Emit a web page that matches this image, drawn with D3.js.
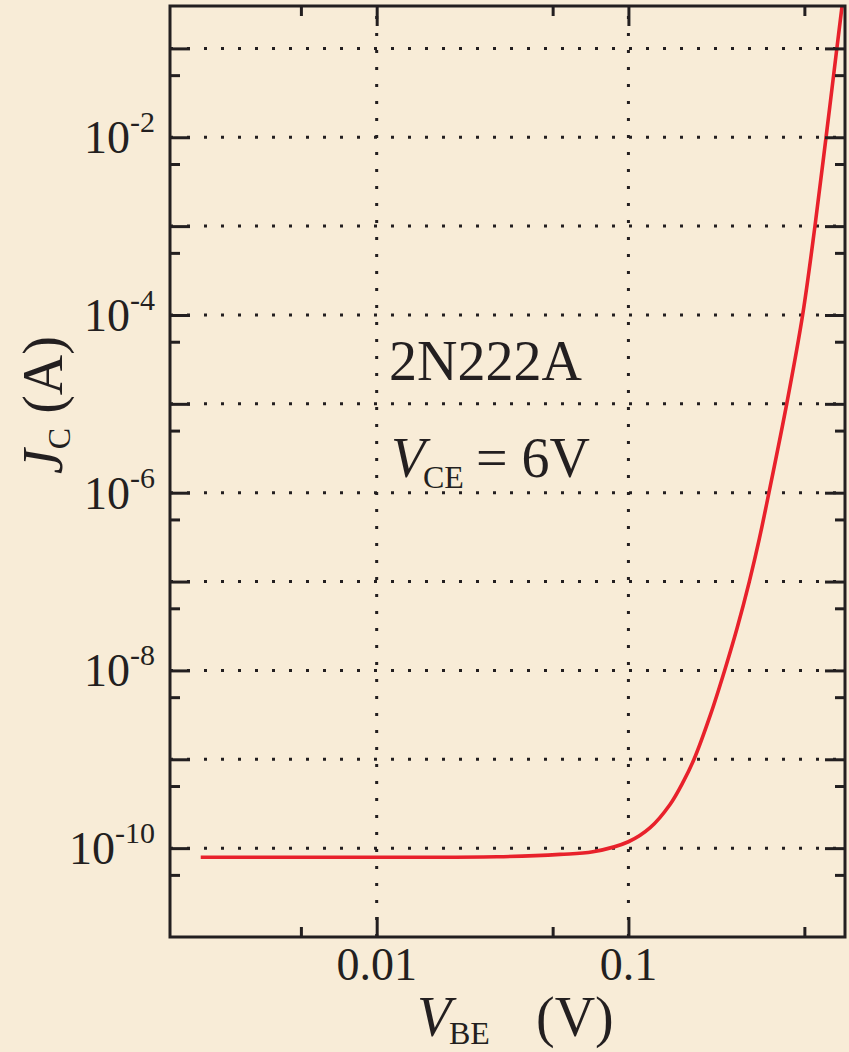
<!DOCTYPE html>
<html>
<head>
<meta charset="utf-8">
<script src="https://cdn.jsdelivr.net/npm/d3@7"></script>
<style>
body { margin: 0; background: #f8ecd7; }
text { font-family: "Liberation Serif", "Times New Roman", serif; fill: #231f20; }
</style>
</head>
<body>
<svg id="mainSvgArea" width="849" height="1052"></svg>
<script>
// curve
var vbe = [0.002, 0.01, 0.03, 0.0535, 0.0723, 0.1, 0.122, 0.1463, 0.1652, 0.1822, 0.212, 0.2411, 0.2703, 0.3022, 0.3309, 0.3616, 0.4254, 0.4921, 0.5508, 0.6096, 0.673, 0.7058];
var jc = [7.9e-11, 7.9e-11, 8.0e-11, 8.5e-11, 9.1e-11, 1.18e-10, 1.7e-10, 3.1e-10, 5.6e-10, 1e-9, 3.2e-9, 1e-8, 3e-8, 1e-7, 3e-7, 1e-6, 1e-5, 1e-4, 1e-3, 1e-2, 1e-1, 0.3];

var xMajor = [0.01, 0.1];
var xMinor = [0.005, 0.05, 0.5];
var xLabels = ["0.01", "0.1"];
var yMajor = [1e-1, 1e-2, 1e-3, 1e-4, 1e-5, 1e-6, 1e-7, 1e-8, 1e-9, 1e-10];
var yMinor = [5e-2, 5e-3, 5e-4, 5e-5, 5e-6, 5e-7, 5e-8, 5e-9, 5e-10, 5e-11];
var yLabelValues = [1e-2, 1e-4, 1e-6, 1e-8, 1e-10];
var yLabelExps = ["-2", "-4", "-6", "-8", "-10"];

var ink = "#231f20";
var plotLeft = 170, plotRight = 845, plotTop = 6, plotBottom = 937;

var svg = d3.select("#mainSvgArea");
svg.append("rect").attr("width", 849).attr("height", 1052).attr("fill", "#f8ecd7");

var x = d3.scaleLog().domain([0.00151, 0.725]).range([plotLeft, plotRight]);
var y = d3.scaleLog().domain([1e-11, 0.3]).range([plotBottom, plotTop]);

// dotted grid
svg.selectAll("line.hgrid").data(yMajor).enter().append("line")
    .attr("class", "hgrid")
    .attr("x1", plotLeft).attr("x2", plotRight)
    .attr("y1", function(d) { return y(d); })
    .attr("y2", function(d) { return y(d); })
    .attr("stroke", ink).attr("stroke-width", 3)
    .attr("stroke-dasharray", "3,14");

svg.selectAll("line.vgrid").data(xMajor).enter().append("line")
    .attr("class", "vgrid")
    .attr("x1", function(d) { return x(d); })
    .attr("x2", function(d) { return x(d); })
    .attr("y1", plotBottom).attr("y2", plotTop)
    .attr("stroke", ink).attr("stroke-width", 3)
    .attr("stroke-dasharray", "3,14");

// curve
var points = vbe.map(function(v, i) { return {v: v, j: jc[i]}; });
var line = d3.line()
    .x(function(p) { return x(p.v); })
    .y(function(p) { return y(p.j); })
    .curve(d3.curveCatmullRom.alpha(0.5));

svg.append("clipPath").attr("id", "plotClip")
    .append("rect").attr("x", plotLeft).attr("y", plotTop)
    .attr("width", plotRight - plotLeft).attr("height", plotBottom - plotTop);

svg.append("path")
    .datum(points)
    .attr("d", line)
    .attr("clip-path", "url(#plotClip)")
    .attr("fill", "none")
    .attr("stroke", "#e8212b")
    .attr("stroke-width", 3.6);

// inward ticks on all four sides
function drawAxis(gen, transform, values, size) {
    var g = svg.append("g")
        .attr("transform", transform)
        .call(gen.tickValues(values).tickSize(-size).tickFormat(""));
    g.select(".domain").remove();
    g.selectAll(".tick line").attr("stroke", ink).attr("stroke-width", 3);
}
drawAxis(d3.axisBottom(x), "translate(0," + plotBottom + ")", xMajor, 20);
drawAxis(d3.axisBottom(x), "translate(0," + plotBottom + ")", xMinor, 10);
drawAxis(d3.axisTop(x), "translate(0," + plotTop + ")", xMajor, 20);
drawAxis(d3.axisTop(x), "translate(0," + plotTop + ")", xMinor, 10);
drawAxis(d3.axisLeft(y), "translate(" + plotLeft + ",0)", yMajor, 20);
drawAxis(d3.axisLeft(y), "translate(" + plotLeft + ",0)", yMinor, 10);
drawAxis(d3.axisRight(y), "translate(" + plotRight + ",0)", yMajor, 20);
drawAxis(d3.axisRight(y), "translate(" + plotRight + ",0)", yMinor, 10);

// frame
svg.append("rect")
    .attr("x", plotLeft).attr("y", plotTop)
    .attr("width", plotRight - plotLeft).attr("height", plotBottom - plotTop)
    .attr("fill", "none").attr("stroke", ink).attr("stroke-width", 3);

// tick labels
svg.selectAll("text.xlab").data(xMajor).enter().append("text")
    .attr("class", "xlab")
    .attr("x", function(d) { return x(d); })
    .attr("y", 980)
    .attr("text-anchor", "middle")
    .attr("font-size", 46)
    .text(function(d, i) { return xLabels[i]; });

var ylab = svg.selectAll("text.ylab").data(yLabelValues).enter().append("text")
    .attr("class", "ylab")
    .attr("x", 155)
    .attr("y", function(d) { return y(d) + 16; })
    .attr("text-anchor", "end")
    .attr("font-size", 46);
ylab.append("tspan").text("10");
ylab.append("tspan")
    .attr("dy", -21)
    .attr("font-size", 30)
    .text(function(d, i) { return yLabelExps[i]; });

// x title
var xt = svg.append("text").attr("y", 1036).attr("font-size", 56);
xt.append("tspan").attr("x", 417).attr("font-style", "italic").text("V");
xt.append("tspan").attr("x", 449).attr("dy", 8).attr("font-size", 32).text("BE");
xt.append("tspan").attr("x", 536).attr("dy", -8).text("(V)");

// y title
var yt = svg.append("text")
    .attr("transform", "translate(62,474) rotate(-90)")
    .attr("font-size", 56);
yt.append("tspan").attr("font-style", "italic").text("J");
yt.append("tspan").attr("dy", 8).attr("font-size", 32).text("C");
yt.append("tspan").attr("dy", -8).text(" (A)");

// annotations
svg.append("text").attr("x", 389).attr("y", 380).attr("font-size", 56).text("2N222A");
var ann = svg.append("text").attr("y", 477).attr("font-size", 56);
ann.append("tspan").attr("x", 391).attr("font-style", "italic").text("V");
ann.append("tspan").attr("x", 423).attr("dy", 11).attr("font-size", 32).text("CE");
ann.append("tspan").attr("x", 476).attr("dy", -11).text("= 6V");
</script>
</body>
</html>
